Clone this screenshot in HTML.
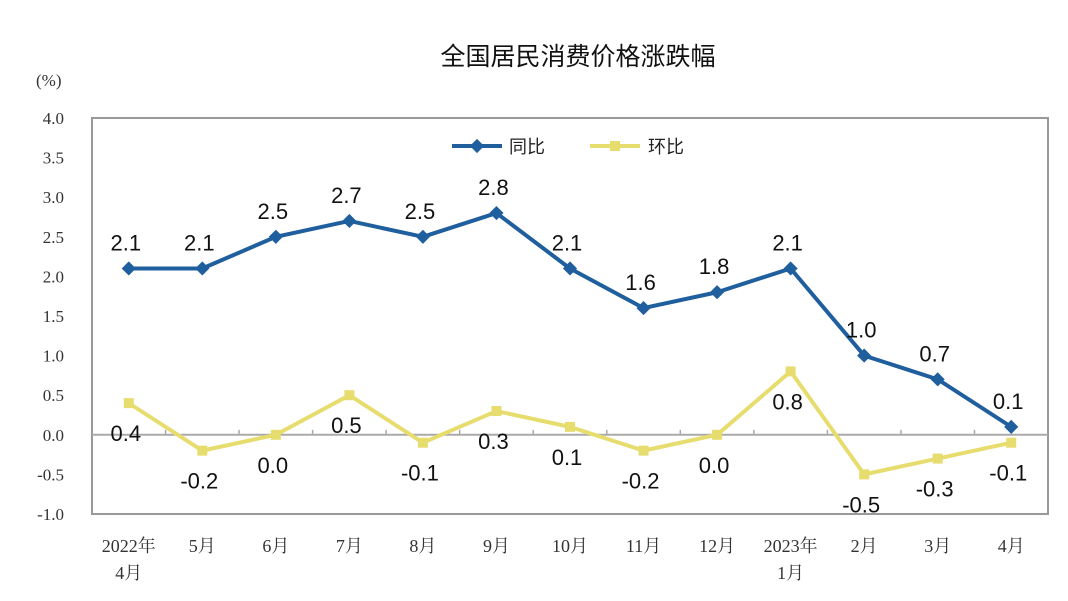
<!DOCTYPE html>
<html><head><meta charset="utf-8"><style>
body{margin:0;background:#fff;}
svg{display:block;font-family:"Liberation Sans","Noto Sans CJK SC",sans-serif;}
.serif{font-family:"Liberation Serif","Noto Serif CJK SC",serif;}
</style></head><body>
<svg id="chart" width="1068" height="601" viewBox="0 0 1068 601">
<text x="578" y="65" font-size="25" text-anchor="middle" fill="#111">全国居民消费价格涨跌幅</text>
<text class="serif" x="36" y="86" font-size="17" fill="#333">(%)</text>
<rect x="92" y="118" width="956" height="396" fill="none" stroke="#999" stroke-width="2"/>
<g id="yaxis"></g><g id="xaxis"></g><g id="series"></g>
<g>
<line x1="452" y1="146" x2="502" y2="146" stroke="#1f5f9e" stroke-width="4"/>
<rect x="472" y="141" width="10" height="10" fill="#1f5f9e" transform="rotate(45 477 146)"/>
<text x="509" y="153" font-size="18" fill="#222">同比</text>
<line x1="590" y1="146" x2="640" y2="146" stroke="#e6dd6e" stroke-width="4"/>
<rect x="610" y="141" width="10" height="10" fill="#e6dd6e"/>
<text x="648" y="153" font-size="18" fill="#222">环比</text>
</g>
</svg>
<script>
const categories=["2022年|4月","5月","6月","7月","8月","9月","10月","11月","12月","2023年|1月","2月","3月","4月"];
const yoy=[2.1,2.1,2.5,2.7,2.5,2.8,2.1,1.6,1.8,2.1,1.0,0.7,0.1];
const mom=[0.4,-0.2,0.0,0.5,-0.1,0.3,0.1,-0.2,0.0,0.8,-0.5,-0.3,-0.1];
const yTicks=[4.0,3.5,3.0,2.5,2.0,1.5,1.0,0.5,0.0,-0.5,-1.0];
const NS="http://www.w3.org/2000/svg";
const L=92,R=1048,T=118,B=514,ymax=4,ymin=-1;
const y=v=>T+(ymax-v)/(ymax-ymin)*(B-T);
const bw=(R-L)/categories.length;
const x=i=>L+bw*(i+0.5);
function mk(tag,attrs,parent,txt){const e=document.createElementNS(NS,tag);for(const k in attrs)e.setAttribute(k,attrs[k]);if(txt!==undefined)e.textContent=txt;parent.appendChild(e);return e;}
const ya=document.getElementById('yaxis'),xa=document.getElementById('xaxis'),se=document.getElementById('series');
yTicks.forEach(v=>{
 const t=mk('text',{x:64,y:y(v)+6,'font-size':17,'text-anchor':'end',fill:'#333',class:'serif'},ya,v.toFixed(1));
 
 
});
const z=mk('line',{x1:L,x2:R,y1:y(0),y2:y(0),stroke:'#aaa','stroke-width':2},xa);


categories.forEach((c,i)=>{
 if(i>0){mk('line',{x1:L+bw*i,x2:L+bw*i,y1:y(0)-5,y2:y(0),stroke:'#aaa','stroke-width':1.5},xa);}
 const parts=c.split('|');
 parts.forEach((p,j)=>{
  const t=mk('text',{x:x(i),y:552+j*27,'font-size':18,'text-anchor':'middle',fill:'#333',class:'serif'},xa,p);
  
  
 });
});
function series(vals,color,name,diamond,dy){
 const pl=mk('polyline',{points:vals.map((v,i)=>x(i)+','+y(v)).join(' '),fill:'none',stroke:color,'stroke-width':4,'stroke-linejoin':'round'},se);
 
 
 vals.forEach((v,i)=>{
  const m=mk('rect',{x:x(i)-5,y:y(v)-5,width:10,height:10,fill:color},se);
  if(diamond)m.setAttribute('transform','rotate(45 '+x(i)+' '+y(v)+')');
  
  
  const t=mk('text',{x:x(i)-3,y:y(v)+dy,'font-size':22,'text-anchor':'middle',fill:'#111'},se,v.toFixed(1));
  
  
 });
}
series(mom,'#e6dd6e','mom',false,38);
series(yoy,'#1f5f9e','yoy',true,-18);
</script>
</body></html>
